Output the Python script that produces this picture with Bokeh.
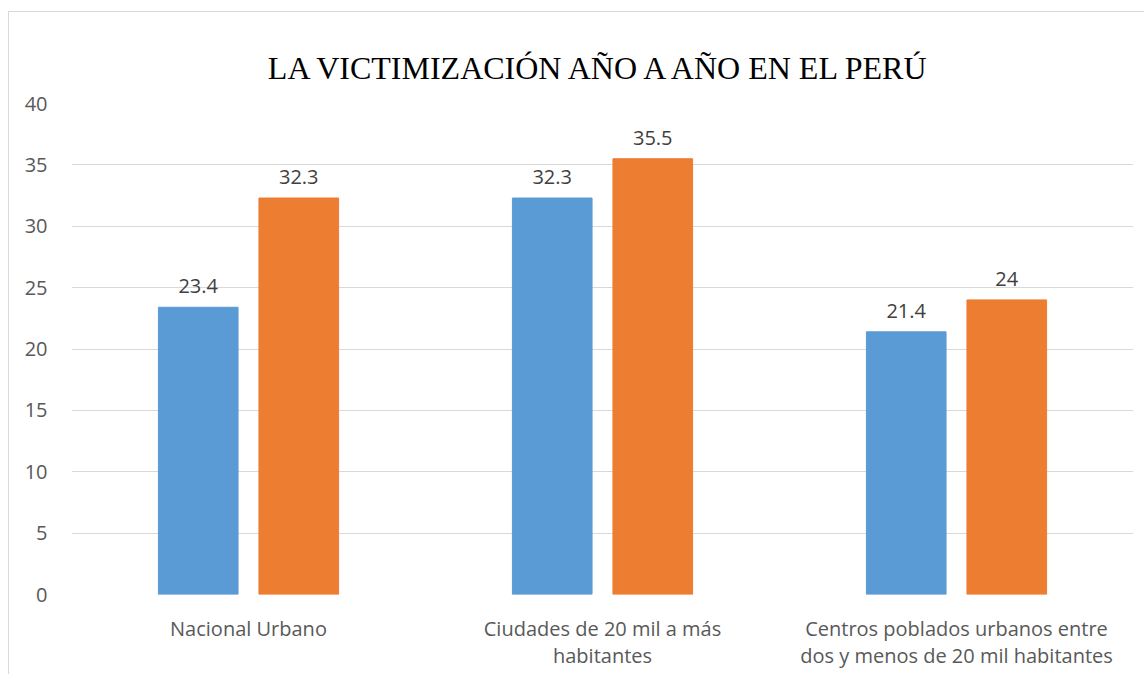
from bokeh.plotting import figure
from bokeh.models import ColumnDataSource, FixedTicker, Range1d, LabelSet
from bokeh.core.properties import value
from bokeh.embed import file_html
from bokeh.resources import INLINE

title_text = "LA VICTIMIZACIÓN AÑO A AÑO EN EL PERÚ"
categories = ["Nacional Urbano", "Ciudades de 20 mil a más\nhabitantes",
              "Centros poblados urbanos entre\ndos y menos de 20 mil habitantes"]
serie_a = [23.4, 32.3, 21.4]
serie_b = [32.3, 35.5, 24.0]
y_ticks = [0, 5, 10, 15, 20, 25, 30, 35, 40]

xc = [i + 0.5 for i in range(len(categories))]
off = 0.142
src_a = ColumnDataSource(dict(x=[v - off for v in xc], top=serie_a,
                              lab=[f"{v:g}" for v in serie_a]))
src_b = ColumnDataSource(dict(x=[v + off for v in xc], top=serie_b,
                              lab=[f"{v:g}" for v in serie_b]))

p = figure(width=1136, height=663, output_backend="svg", toolbar_location=None,
           x_range=Range1d(0, 3), y_range=Range1d(0, 40),
           min_border_left=62, min_border_right=12, min_border_top=91, min_border_bottom=81)
p.title.text = title_text
p.title.text_font = "Liberation Serif"
p.title.text_font_size = "32px"
p.title.text_font_style = "normal"
p.title.text_color = "#000000"
p.title.align = "center"
p.title.vertical_align = "top"
p.title.offset = -62
p.title.standoff = 32

p.vbar(x="x", top="top", width=0.225, source=src_a, color="#5B9BD5")
p.vbar(x="x", top="top", width=0.225, source=src_b, color="#ED7D31")

for s in (src_a, src_b):
    p.add_layout(LabelSet(x="x", y="top", text="lab", source=s, text_align="center",
                          text_baseline="bottom", y_offset=14,
                          text_font=value("Open Sans"),
                          text_font_size=value("20px"), text_color="#404040"))

p.outline_line_color = None
p.xgrid.grid_line_color = None
p.ygrid.grid_line_color = "#d9d9d9"
p.ygrid.grid_line_width = 1
p.yaxis.ticker = FixedTicker(ticks=y_ticks)
p.xaxis.ticker = FixedTicker(ticks=xc)
p.xaxis.major_label_overrides = {v: c for v, c in zip(xc, categories)}
for ax in (p.xaxis, p.yaxis):
    ax.axis_line_color = None
    ax.major_tick_line_color = None
    ax.minor_tick_line_color = None
    ax.major_label_text_font = "Open Sans"
    ax.major_label_text_font_size = "20px"
    ax.major_label_text_color = "#595959"
p.xaxis.major_label_text_line_height = 1.0
p.yaxis.major_label_standoff = 18
p.xaxis.major_label_standoff = 14
p.styles = {"border-left": "1px solid #d9d9d9", "border-top": "1px solid #d9d9d9",
            "margin-left": "8px", "margin-top": "11px"}

open("out.html", "w").write(file_html(p, INLINE))
